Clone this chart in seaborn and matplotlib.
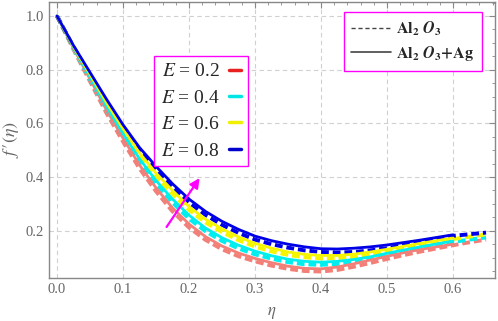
import numpy as np
import pandas as pd
import matplotlib
matplotlib.use("Agg")
import matplotlib.pyplot as plt
from matplotlib.lines import Line2D
from matplotlib.ticker import MultipleLocator
import seaborn as sns

# ---------------- data ----------------
eta_solid = [0.000, 0.025, 0.050, 0.075, 0.100, 0.125, 0.150, 0.175, 0.200, 0.225,
             0.250, 0.275, 0.300, 0.325, 0.350, 0.375, 0.400, 0.425, 0.450, 0.475,
             0.500, 0.525, 0.550, 0.575, 0.600]
eta_dash = eta_solid + [0.625, 0.650]

E_labels = ["0.2", "0.4", "0.6", "0.8"]

# Al2O3 + Ag (solid)
hyb_E02 = [1.000, 0.880, 0.765, 0.650, 0.545, 0.445, 0.360, 0.285, 0.225, 0.178,
           0.143, 0.117, 0.097, 0.081, 0.068, 0.060, 0.058, 0.065, 0.077, 0.091,
           0.105, 0.118, 0.130, 0.140, 0.150]
hyb_E04 = [1.000, 0.884, 0.773, 0.663, 0.562, 0.468, 0.387, 0.318, 0.258, 0.210,
           0.174, 0.146, 0.124, 0.107, 0.094, 0.086, 0.083, 0.086, 0.093, 0.103,
           0.116, 0.128, 0.140, 0.151, 0.162]
hyb_E06 = [1.000, 0.887, 0.782, 0.677, 0.580, 0.490, 0.415, 0.350, 0.290, 0.243,
           0.207, 0.177, 0.153, 0.135, 0.121, 0.112, 0.108, 0.108, 0.113, 0.121,
           0.131, 0.142, 0.153, 0.163, 0.173]
hyb_E08 = [1.000, 0.890, 0.790, 0.690, 0.595, 0.510, 0.440, 0.375, 0.318, 0.272,
           0.235, 0.205, 0.180, 0.163, 0.150, 0.140, 0.133, 0.132, 0.135, 0.140,
           0.147, 0.156, 0.165, 0.175, 0.185]

# Al2O3 (dashed)
nf_E02 = [1.000, 0.875, 0.756, 0.638, 0.532, 0.432, 0.347, 0.272, 0.212, 0.166,
          0.131, 0.105, 0.086, 0.070, 0.058, 0.050, 0.048, 0.054, 0.066, 0.080,
          0.095, 0.109, 0.122, 0.134, 0.146, 0.157, 0.167]
nf_E04 = [1.000, 0.879, 0.764, 0.651, 0.550, 0.455, 0.374, 0.305, 0.245, 0.198,
          0.162, 0.134, 0.112, 0.096, 0.083, 0.075, 0.073, 0.076, 0.084, 0.096,
          0.109, 0.122, 0.135, 0.147, 0.158, 0.167, 0.175]
nf_E06 = [1.000, 0.882, 0.773, 0.665, 0.568, 0.477, 0.402, 0.337, 0.278, 0.231,
          0.195, 0.165, 0.141, 0.123, 0.110, 0.101, 0.097, 0.098, 0.103, 0.112,
          0.123, 0.135, 0.147, 0.158, 0.169, 0.178, 0.186]
nf_E08 = [1.000, 0.885, 0.781, 0.679, 0.583, 0.497, 0.427, 0.362, 0.305, 0.259,
          0.222, 0.192, 0.167, 0.150, 0.137, 0.127, 0.121, 0.119, 0.121, 0.127,
          0.135, 0.146, 0.157, 0.169, 0.181, 0.187, 0.193]

hyb_series = [hyb_E02, hyb_E04, hyb_E06, hyb_E08]
nf_series = [nf_E02, nf_E04, nf_E06, nf_E08]
colors = ["#f28078", "#00eeee", "#f5f500", "#0000e6"]
legend_colors = ["#e82020", "#00e5e5", "#f0f000", "#0000cc"]

# ---------------- figure ----------------
sns.set_style("white")
plt.rcParams["font.family"] = ["Liberation Serif", "DejaVu Serif"]
plt.rcParams["mathtext.fontset"] = "stix"

fig = plt.figure(figsize=(4.98, 3.21), dpi=100)
ax = fig.add_axes([49 / 498, 1 - 278 / 321, 446 / 498, 276 / 321])

for ys, c in zip(nf_series, colors):
    d = pd.DataFrame({"eta": eta_dash, "f": ys})
    sns.lineplot(data=d, x="eta", y="f", ax=ax, color=c, lw=2.8,
                 linestyle=(0, (2.0, 1.0)), sort=False, legend=False)
for ys, c in zip(hyb_series, colors):
    d = pd.DataFrame({"eta": eta_solid, "f": ys})
    sns.lineplot(data=d, x="eta", y="f", ax=ax, color=c, lw=2.0,
                 sort=False, legend=False)

ax.set_xlim(-0.0121, 0.6636)
ax.set_ylim(0.024, 1.052)
ax.xaxis.set_major_locator(MultipleLocator(0.1))
ax.xaxis.set_minor_locator(MultipleLocator(0.02))
ax.yaxis.set_major_locator(MultipleLocator(0.2))
ax.yaxis.set_minor_locator(MultipleLocator(0.05))
ax.set_yticks([0.2, 0.4, 0.6, 0.8, 1.0])
ax.set_xticks([0.0, 0.1, 0.2, 0.3, 0.4, 0.5, 0.6])

gray = "#666666"
ax.tick_params(which="both", direction="in", top=True, right=True,
               colors="#888888", labelcolor=gray, labelsize=10.5)
ax.tick_params(which="major", length=4, width=0.8)
ax.tick_params(which="minor", length=2.5, width=0.6)
for s in ax.spines.values():
    s.set_color("#888888")
    s.set_linewidth(1.0)
ax.grid(True, which="major", linestyle=(0, (4, 3)), color="#d0d0d0", linewidth=0.8)
ax.set_axisbelow(True)

ax.set_xlabel(r"$\eta$", color=gray, fontsize=12)
ax.xaxis.label.set_va("center")
ax.xaxis.set_label_coords(0.5, -0.127)
ax.set_ylabel(r"$f\,{\prime}(\eta)$", color=gray, fontsize=13)
ax.yaxis.label.set_va("center")
ax.yaxis.label.set_ha("center")
ax.yaxis.set_label_coords(-0.085, 0.5)

ax.annotate("", xy=(0.216, 0.396), xytext=(0.166, 0.214),
            arrowprops=dict(arrowstyle="-|>", color="#ff00ff", lw=1.6,
                            mutation_scale=14, shrinkA=0, shrinkB=0))

# legend 1: E values
h1 = [Line2D([], [], color=c, lw=2.5) for c in legend_colors]
l1 = [rf"$E$ = {v}" for v in E_labels]
leg1 = fig.legend(h1, l1, loc="upper left", bbox_to_anchor=(154 / 498, 1 - 56 / 321),
                  bbox_transform=fig.transFigure, borderaxespad=0, fancybox=False,
                  markerfirst=False, handlelength=0.6, handletextpad=0.5,
                  labelspacing=0.45, fontsize=14, borderpad=0.35,
                  framealpha=1, edgecolor="#ff00ff")
leg1.get_frame().set_linewidth(1.0)

# legend 2: fluids
h2 = [Line2D([], [], color="#444444", lw=1.0, linestyle=(0, (3, 2))),
      Line2D([], [], color="#444444", lw=1.2)]
l2 = [r"$\mathbf{Al}_{\mathbf{2}}\ \mathbfit{O}_{\mathbf{3}}$",
      r"$\mathbf{Al}_{\mathbf{2}}\ \mathbfit{O}_{\mathbf{3}}\mathbf{+Ag}$"]
leg2 = fig.legend(h2, l2, loc="upper right", bbox_to_anchor=(482 / 498, 1 - 12 / 321),
                  bbox_transform=fig.transFigure, borderaxespad=0, fancybox=False,
                  handlelength=2.5, handletextpad=0.3, labelspacing=0.35,
                  fontsize=11.5, borderpad=0.5, framealpha=1, edgecolor="#ff00ff")
leg2.get_frame().set_linewidth(1.0)

fig.savefig("out.png", dpi=100)
